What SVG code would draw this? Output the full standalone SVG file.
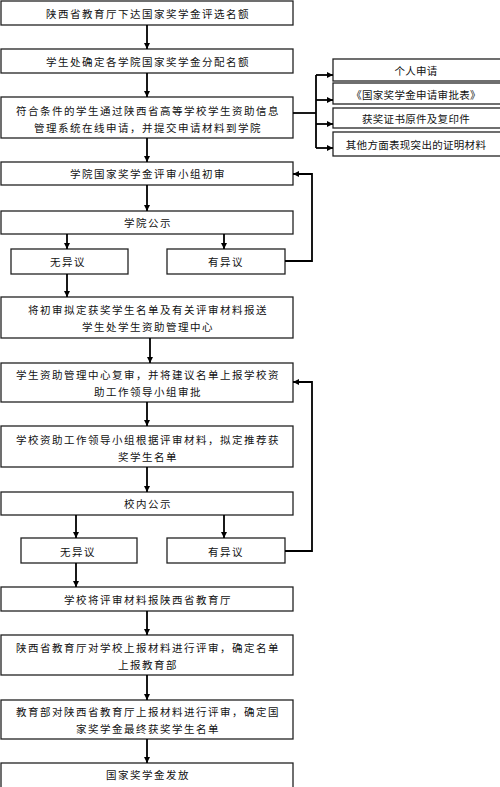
<svg xmlns="http://www.w3.org/2000/svg" width="500" height="787" viewBox="0 0 500 787">
<style>
rect{fill:#fff;stroke:#222;stroke-width:1.3}
text{font-family:"Noto Sans CJK SC","Noto Sans",sans-serif;font-size:10.5px;letter-spacing:1.5px;fill:#111;text-anchor:middle;dominant-baseline:central}
text.s{letter-spacing:0.3px}
.c path{fill:none;stroke:#000;stroke-width:1.8}
</style>
<defs>
<marker id="a" viewBox="0 0 10 10" refX="10" refY="5" markerWidth="3.4" markerHeight="3.4" orient="auto" markerUnits="strokeWidth">
<path d="M0,0L10,5L0,10z" fill="#000"/>
</marker>
</defs>
<rect x="0" y="0" width="500" height="787" style="fill:#fff;stroke:none"/>
<g id="n1"><rect x="1" y="1" width="292" height="24"/><text x="148" y="13">陕西省教育厅下达国家奖学金评选名额</text></g>
<g id="n2"><rect x="1" y="49" width="292" height="24"/><text x="148" y="61">学生处确定各学院国家奖学金分配名额</text></g>
<g id="n3"><rect x="1" y="97" width="292" height="41"/><text x="148" y="110">符合条件的学生通过陕西省高等学校学生资助信息</text><text x="148" y="127">管理系统在线申请，并提交申请材料到学院</text></g>
<g id="r1"><rect x="333" y="59" width="175" height="22"/><text class="s" x="416" y="70">个人申请</text></g>
<g id="r2"><rect x="333" y="83" width="175" height="21"/><text class="s" x="416" y="94">《国家奖学金申请审批表》</text></g>
<g id="r3"><rect x="333" y="108" width="175" height="20"/><text class="s" x="416" y="118">获奖证书原件及复印件</text></g>
<g id="r4"><rect x="333" y="132" width="175" height="24"/><text class="s" x="416" y="144">其他方面表现突出的证明材料</text></g>
<g id="n4"><rect x="1" y="162" width="292" height="23"/><text x="148" y="173">学院国家奖学金评审小组初审</text></g>
<g id="n5"><rect x="1" y="211" width="292" height="23"/><text x="148" y="222">学院公示</text></g>
<g id="n6"><rect x="11" y="249" width="117" height="25"/><text x="68" y="261">无异议</text></g>
<g id="n7"><rect x="167" y="249" width="118" height="25"/><text x="226" y="261">有异议</text></g>
<g id="n8"><rect x="1" y="297" width="292" height="41"/><text x="148" y="309">将初审拟定获奖学生名单及有关评审材料报送</text><text x="148" y="326">学生处学生资助管理中心</text></g>
<g id="n9"><rect x="1" y="363" width="292" height="39"/><text x="148" y="374">学生资助管理中心复审，并将建议名单上报学校资</text><text x="148" y="391">助工作领导小组审批</text></g>
<g id="n10"><rect x="1" y="426" width="292" height="41"/><text x="148" y="439">学校资助工作领导小组根据评审材料，拟定推荐获</text><text x="148" y="456">奖学生名单</text></g>
<g id="n11"><rect x="1" y="492" width="292" height="23"/><text x="148" y="503">校内公示</text></g>
<g id="n12"><rect x="21" y="538" width="116" height="25"/><text x="78" y="551">无异议</text></g>
<g id="n13"><rect x="167" y="538" width="118" height="25"/><text x="226" y="551">有异议</text></g>
<g id="n14"><rect x="1" y="587" width="292" height="24"/><text x="148" y="599">学校将评审材料报陕西省教育厅</text></g>
<g id="n15"><rect x="1" y="635" width="292" height="40"/><text x="148" y="647">陕西省教育厅对学校上报材料进行评审，确定名单</text><text x="148" y="664">上报教育部</text></g>
<g id="n16"><rect x="1" y="700" width="292" height="39"/><text x="148" y="711">教育部对陕西省教育厅上报材料进行评审，确定国</text><text x="148" y="728">家奖学金最终获奖学生名单</text></g>
<g id="n17"><rect x="1" y="763" width="292" height="30"/><text x="148" y="774">国家奖学金发放</text></g>
<g class="c" id="connectors">
<path d="M147,25V49" marker-end="url(#a)"/>
<path d="M147,73V97" marker-end="url(#a)"/>
<path d="M147,138V162" marker-end="url(#a)"/>
<path d="M147,185V211" marker-end="url(#a)"/>
<path d="M293,113H316"/>
<path d="M316,75V148"/>
<path d="M316,75H333" marker-end="url(#a)"/>
<path d="M316,100H333" marker-end="url(#a)"/>
<path d="M316,124H333" marker-end="url(#a)"/>
<path d="M316,148H333" marker-end="url(#a)"/>
<path d="M67,234V249" marker-end="url(#a)"/>
<path d="M224,234V249" marker-end="url(#a)"/>
<path d="M285,261H312V174H293" marker-end="url(#a)"/>
<path d="M67,274V297" marker-end="url(#a)"/>
<path d="M150,338V363" marker-end="url(#a)"/>
<path d="M147,402V426" marker-end="url(#a)"/>
<path d="M147,467V492" marker-end="url(#a)"/>
<path d="M76,515V538" marker-end="url(#a)"/>
<path d="M224,515V538" marker-end="url(#a)"/>
<path d="M285,551H312V382H293" marker-end="url(#a)"/>
<path d="M76,563V587" marker-end="url(#a)"/>
<path d="M147,611V635" marker-end="url(#a)"/>
<path d="M147,675V700" marker-end="url(#a)"/>
<path d="M147,739V763" marker-end="url(#a)"/>
</g>
</svg>
